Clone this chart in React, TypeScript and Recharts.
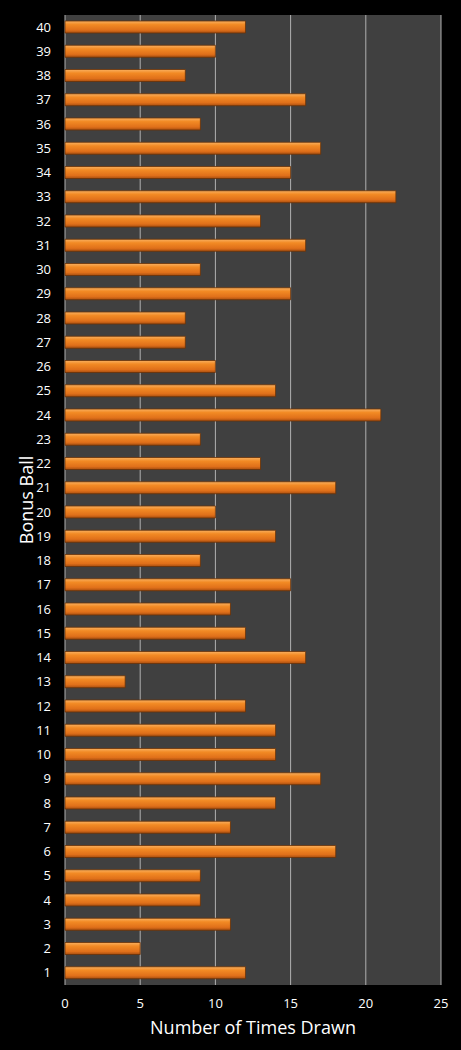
import React from 'react';
import { BarChart, Bar, XAxis, YAxis, CartesianGrid } from 'recharts';

// bonus ball numbers, bottom to top
const balls: string[] = [
  '1', '2', '3', '4', '5', '6', '7', '8', '9', '10',
  '11', '12', '13', '14', '15', '16', '17', '18', '19', '20',
  '21', '22', '23', '24', '25', '26', '27', '28', '29', '30',
  '31', '32', '33', '34', '35', '36', '37', '38', '39', '40',
];

const timesDrawn: number[] = [
  12, 5, 11, 9, 9, 18, 11, 14, 17, 14,
  14, 12, 4, 16, 12, 11, 15, 9, 14, 10,
  18, 13, 9, 21, 14, 10, 8, 8, 15, 9,
  16, 13, 22, 15, 17, 9, 16, 8, 10, 12,
];

const xTicks: number[] = [0, 5, 10, 15, 20, 25];

// recharts vertical layout draws first category at top, so reverse
const data = balls.map((b, i) => ({ ball: b, drawn: timesDrawn[i] })).reverse();

const font = '"Open Sans", "DejaVu Sans", sans-serif';

const App: React.FC = () => {
  return (
    <div style={{ position: 'absolute', left: 0, top: 0, width: 461, height: 1050, background: '#000' }}>
      <BarChart
        width={461}
        height={1050}
        data={data}
        layout="vertical"
        margin={{ top: 15, right: 20, left: 0, bottom: 0 }}
        barCategoryGap="50%"
      >
        <defs>
          <linearGradient id="orangeBar" x1="0" y1="0" x2="0" y2="1">
            <stop offset="0%" stopColor="#f9b060" />
            <stop offset="30%" stopColor="#f28a24" />
            <stop offset="75%" stopColor="#e0701a" />
            <stop offset="100%" stopColor="#a84e10" />
          </linearGradient>
        </defs>
        <CartesianGrid horizontal={false} stroke="#b0b0b0" strokeWidth={1} fill="#404040" />
        <XAxis
          type="number"
          domain={[0, 25]}
          ticks={xTicks}
          height={65}
          axisLine={false}
          tickLine={false}
          tick={{ fill: '#fff', fontSize: 13, fontFamily: font }}
          tickMargin={8}
          label={{
            value: 'Number of Times Drawn',
            position: 'insideBottom',
            offset: 16,
            fill: '#fff',
            fontSize: 18,
            fontFamily: font,
          }}
        />
        <YAxis
          type="category"
          dataKey="ball"
          width={65}
          axisLine={false}
          tickLine={false}
          interval={0}
          tick={{ fill: '#fff', fontSize: 13, fontFamily: font }}
          tickMargin={8}
          label={{
            value: 'Bonus Ball',
            content: ({ viewBox }: any) => {
              const cy = viewBox.y + viewBox.height / 2;
              return (
                <text
                  x={26}
                  y={cy}
                  transform={`rotate(-90, 26, ${cy})`}
                  textAnchor="middle"
                  dominantBaseline="central"
                  fill="#fff"
                  fontSize={18}
                  fontFamily={font}
                >
                  Bonus Ball
                </text>
              );
            },
          }}
        />
        <Bar
          dataKey="drawn"
          fill="url(#orangeBar)"
          stroke="#6a3208"
          strokeWidth={0.8}
          barSize={12}
          isAnimationActive={false}
        />
      </BarChart>
    </div>
  );
};

export default App;
